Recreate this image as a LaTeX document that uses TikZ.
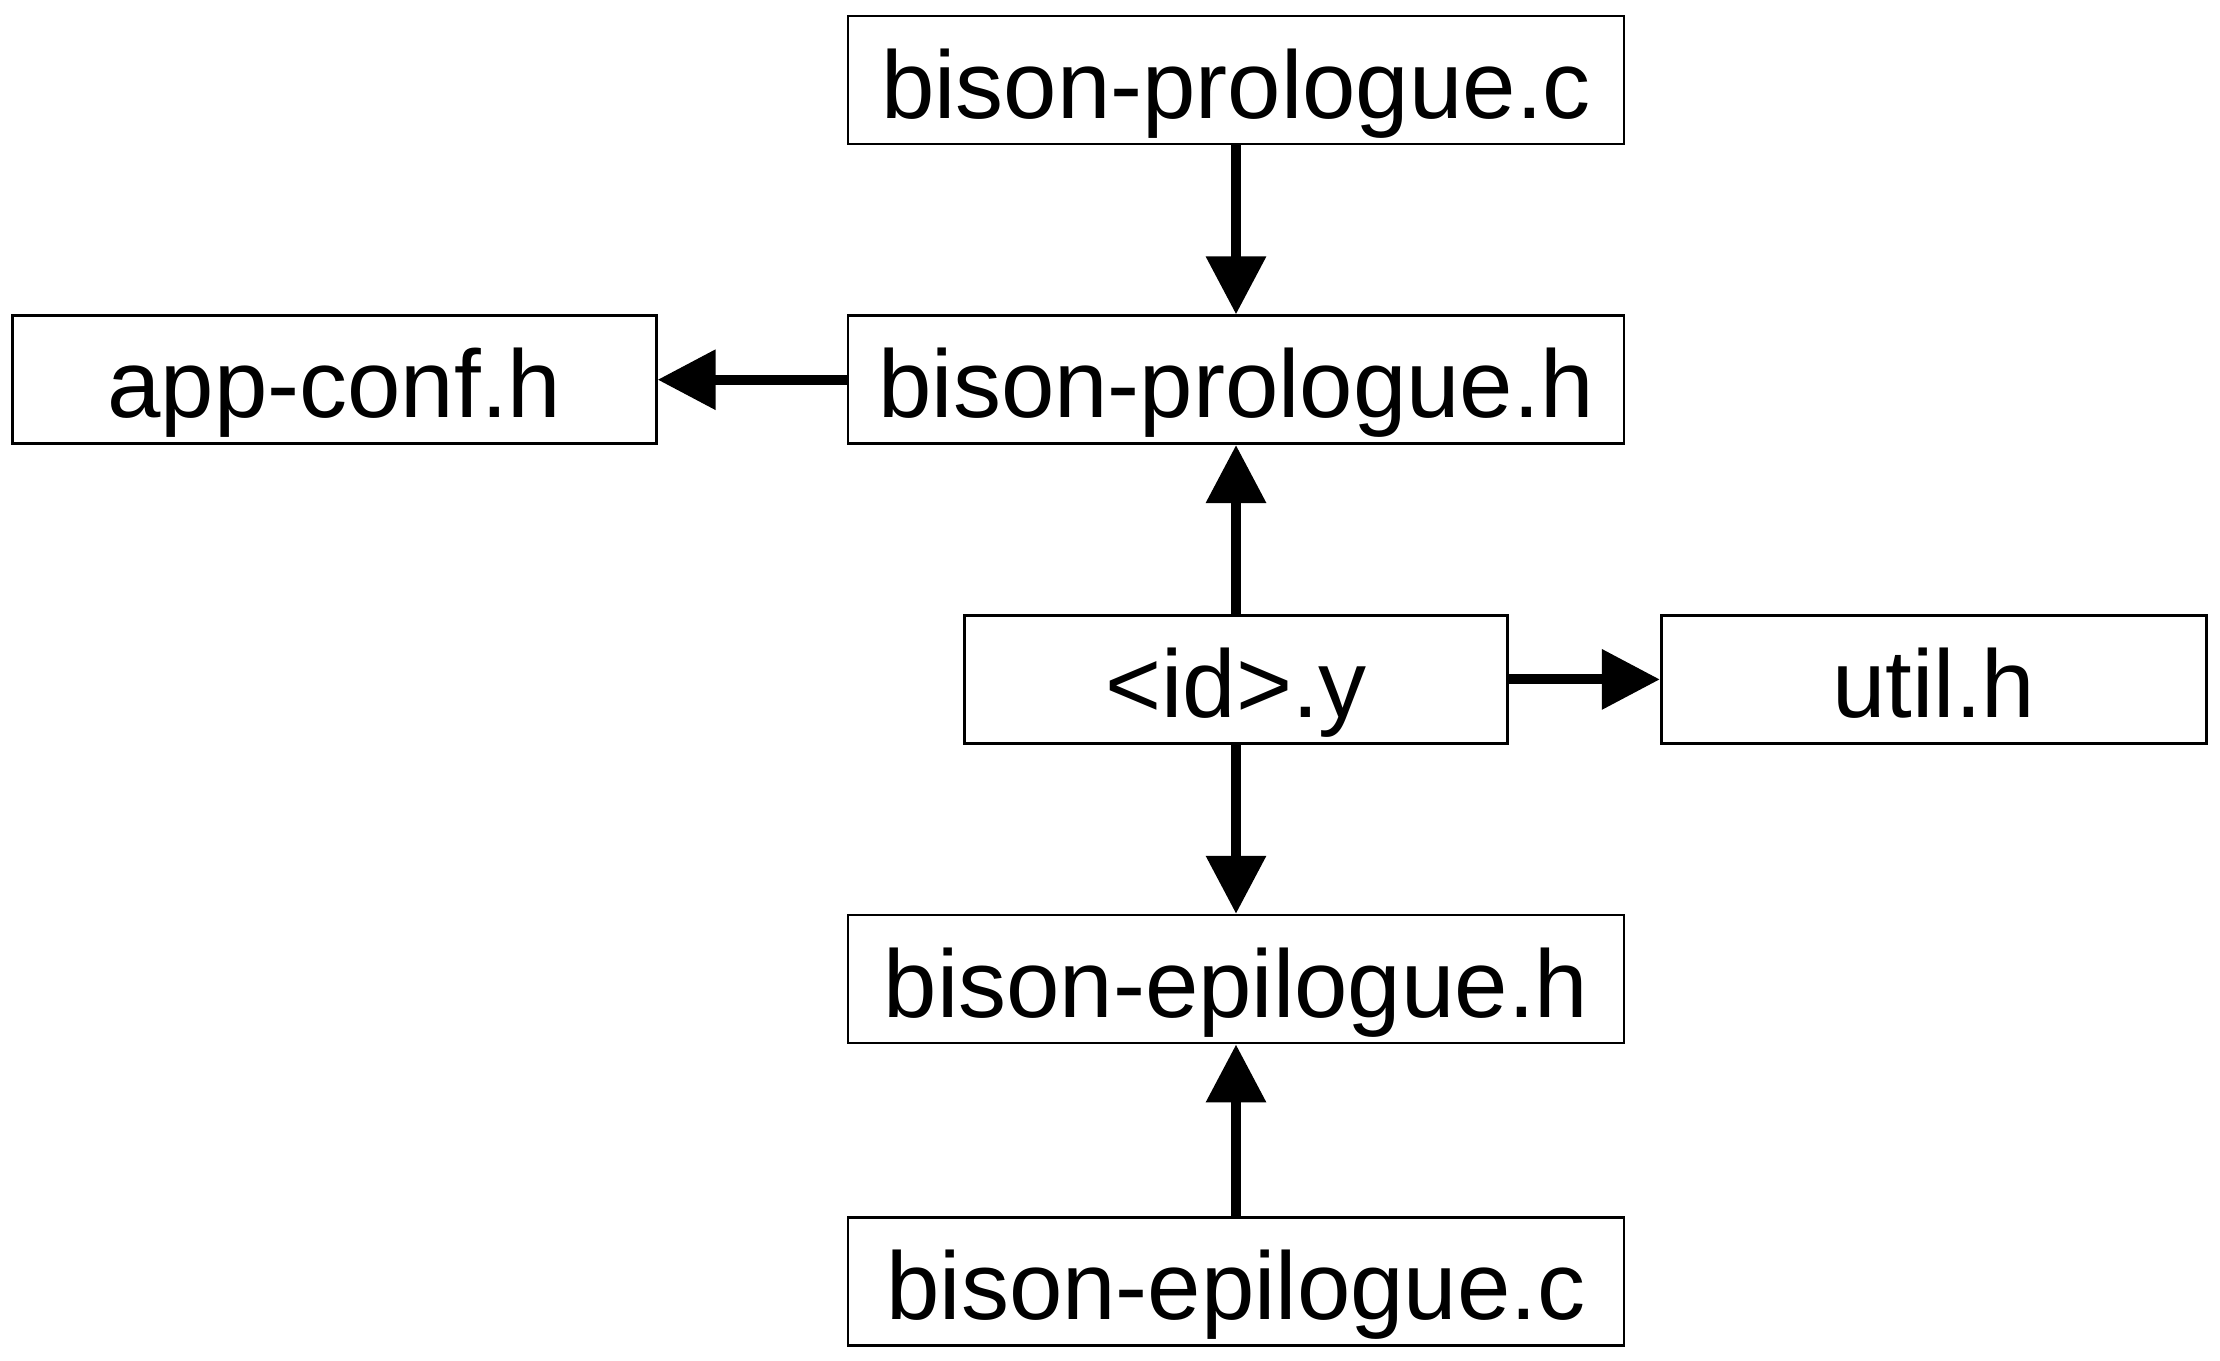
\documentclass[tikz,border=0pt]{standalone}
\usepackage{fontspec}
\setmainfont{Liberation Sans}
\usetikzlibrary{positioning}
\usetikzlibrary{arrows.meta}

\begin{document}
\begin{tikzpicture}[
  node distance=84.5pt,
  file/.style={draw, line width=1.35pt, inner sep=0pt, minimum height=64pt,
    text height=40pt, text depth=2pt, font=\fontsize{48}{58}\selectfont},
  dep/.style={line width=5pt, -{Triangle[length=29pt,width=29pt]}}
]
\useasboundingbox (0,0) rectangle (1110pt,-680pt);

\node (PC) [file, minimum width=388pt] at (618pt,-40pt) {bison-prologue.c};
\node (PH) [file, minimum width=388pt, below=of PC] {bison-prologue.h};
\node (ID) [file, minimum width=271.5pt, below=of PH] {<id>.y};
\node (EH) [file, minimum width=388pt, below=of ID] {bison-epilogue.h};
\node (EC) [file, minimum width=388pt, below=86pt of EH] {bison-epilogue.c};

\node (AC) [file, minimum width=322pt, left=94.5pt of PH] {app-conf.h};
\node (UT) [file, minimum width=272.5pt, right=75.5pt of ID] {util.h};

\draw[dep] (PC) -- (PH);
\draw[dep] (PH) -- (AC);
\draw[dep] (ID) -- (PH);
\draw[dep] (ID) -- (UT);
\draw[dep] (ID) -- (EH);
\draw[dep] (EC) -- (EH);
\end{tikzpicture}
\end{document}
